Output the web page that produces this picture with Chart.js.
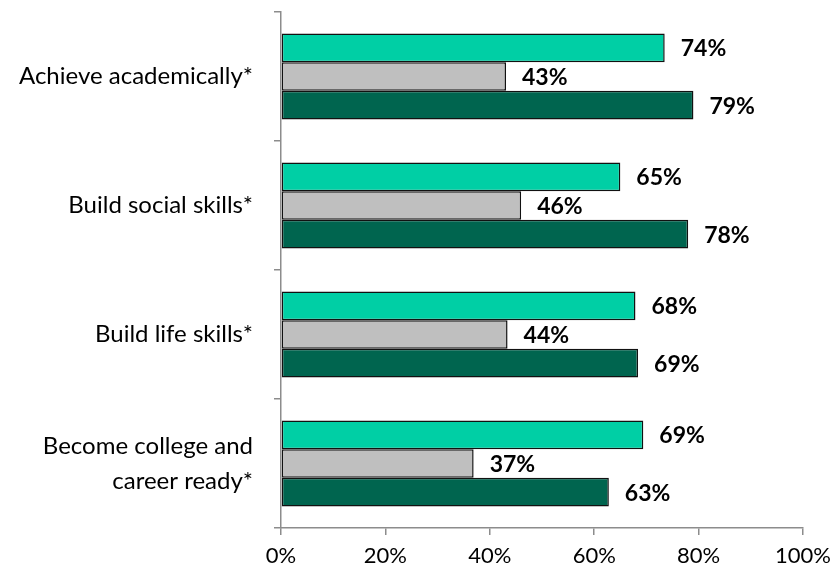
<!DOCTYPE html>
<html>
<head>
<meta charset="utf-8">
<script src="https://cdn.jsdelivr.net/npm/chart.js@4"></script>
<style>
  html, body { margin:0; padding:0; background:#fff; }
  #wrap { width:839px; height:575px; }
</style>
</head>
<body>
<div id="wrap"><canvas id="chart" width="839" height="575"></canvas></div>
<script>
Chart.defaults.font.family = "Lato, 'Open Sans', sans-serif";

const categorias = ['Achieve academically*', 'Build social skills*', 'Build life skills*', ['Become college and', 'career ready*']];
const serieA = [73.5, 65.0, 67.9, 69.4];
const serieB = [43.1, 46.0, 43.4, 36.9];
const serieC = [79.0, 78.0, 68.4, 62.8];
const etiquetasA = ['74%', '65%', '68%', '69%'];
const etiquetasB = ['43%', '46%', '44%', '37%'];
const etiquetasC = ['79%', '78%', '69%', '63%'];
const ticksX = ['0%', '20%', '40%', '60%', '80%', '100%'];

const COLORES = { teal:'#00CFA5', gris:'#BFBFBF', verde:'#00654F', eje:'#8C8C8C' };

// etiquetas de valor con fondo blanco
const valorLabels = {
  id: 'valorLabels',
  afterDatasetsDraw(chart) {
    const ctx = chart.ctx;
    const textos = [etiquetasA, etiquetasB, etiquetasC];
    ctx.save();
    ctx.font = "bold 23px Lato, sans-serif";
    ctx.textBaseline = 'middle';
    ctx.textAlign = 'left';
    chart.data.datasets.forEach((ds, i) => {
      chart.getDatasetMeta(i).data.forEach((bar, j) => {
        const t = textos[i][j];
        const w = ctx.measureText(t).width;
        const h = bar.height;
        ctx.fillStyle = '#fff';
        ctx.fillRect(bar.x + 1.5, bar.y - h/2 + 1.5, w + 24, h - 3);
        ctx.fillStyle = '#000';
        ctx.fillText(t, bar.x + 16, bar.y + 1);
      });
    });
    ctx.restore();
  }
};

const barBase = { borderColor:'#111', borderWidth:1.5, borderSkipped:false, barPercentage:1, categoryPercentage:0.667 };

new Chart(document.getElementById('chart'), {
  type: 'bar',
  data: {
    labels: categorias,
    datasets: [
      Object.assign({ data: serieA, backgroundColor: COLORES.teal }, barBase),
      Object.assign({ data: serieB, backgroundColor: COLORES.gris }, barBase),
      Object.assign({ data: serieC, backgroundColor: COLORES.verde }, barBase)
    ]
  },
  options: {
    responsive: false,
    animation: false,
    indexAxis: 'y',
    layout: { padding: { top: 12, right: 33, left: 0, bottom: 0 } },
    plugins: { legend: { display: false }, tooltip: { enabled: false } },
    scales: {
      x: {
        min: 0, max: 100,
        ticks: { stepSize: 20, color:'#000', font:{ size:22 }, padding: 8,
                 callback: (v, i) => ticksX[i] },
        grid: { drawOnChartArea:false, drawTicks:true, tickLength:7, color:COLORES.eje, lineWidth:1.5 },
        border: { color:COLORES.eje, width:1.5 },
        afterFit: s => { s.height = 47; }
      },
      y: {
        ticks: { color:'#000', font:{ size:24, lineHeight:1.45 }, padding: 21 },
        grid: { drawOnChartArea:false, drawTicks:true, tickLength:7, color:COLORES.eje, lineWidth:1.5, offset:true },
        border: { color:COLORES.eje, width:1.5 },
        afterFit: s => { s.width = 281; s.paddingTop = 0; s.paddingBottom = 0; }
      }
    }
  },
  plugins: [valorLabels]
});
</script>
</body>
</html>
